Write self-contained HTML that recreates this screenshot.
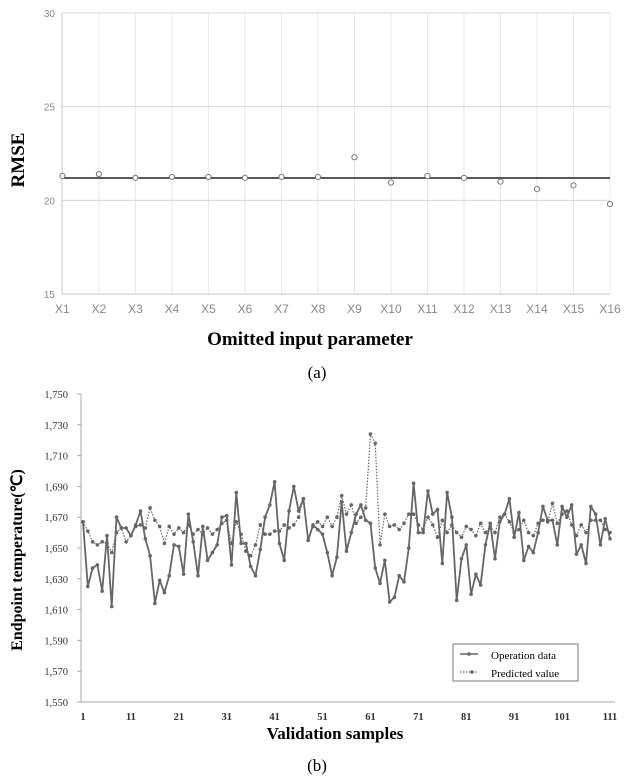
<!DOCTYPE html>
<html><head><meta charset="utf-8"><style>
html,body{margin:0;padding:0;background:#fff;}
svg{display:block;}
</style></head><body>
<svg id="s" width="634" height="783" xmlns="http://www.w3.org/2000/svg" font-family="Liberation Serif, serif">
<g id="top"></g>
<g id="bot"></g>
<text x="310" y="345" font-size="19" font-weight="bold" text-anchor="middle">Omitted input parameter</text>
<text x="317" y="378" font-size="17" text-anchor="middle">(a)</text>
<text transform="translate(24,160) rotate(-90)" font-size="19" font-weight="bold" text-anchor="middle">RMSE</text>
<text x="335" y="739" font-size="17" font-weight="bold" text-anchor="middle">Validation samples</text>
<text x="317" y="771" font-size="17" text-anchor="middle">(b)</text>
<text transform="translate(22,560) rotate(-90)" font-size="16" font-weight="bold" text-anchor="middle">Endpoint temperature(℃)</text>
<rect x="453" y="644" width="125" height="37" fill="#fff" stroke="#777" stroke-width="1"/>
<line x1="460" y1="654" x2="478" y2="654" stroke="#666" stroke-width="1.6"/><circle cx="469" cy="654" r="1.8" fill="#666"/>
<text x="491" y="659" font-size="11">Operation  data</text>
<line x1="460" y1="672" x2="478" y2="672" stroke="#666" stroke-width="1.2" stroke-dasharray="1.5,1.5"/><circle cx="472" cy="672" r="1.8" fill="#666"/>
<text x="491" y="677" font-size="11">Predicted  value</text>
</svg>
<script>
const NS="http://www.w3.org/2000/svg";
function el(p,t,a,txt){const e=document.createElementNS(NS,t);for(const k in a)e.setAttribute(k,a[k]);if(txt!==undefined)e.textContent=txt;p.appendChild(e);return e;}
// top
const T=document.getElementById('top');
const ty=v=>13+(30-v)*(281/15);
const tx=i=>62.4+i*(547.6/15);
for(let i=0;i<16;i++)el(T,'line',{x1:tx(i),y1:13,x2:tx(i),y2:294,stroke:'#e8e8e8','stroke-width':1});
[30,25,20].forEach(v=>el(T,'line',{x1:62,y1:ty(v),x2:610,y2:ty(v),stroke:'#d6d6d6','stroke-width':1}));
el(T,'line',{x1:62,y1:294,x2:610,y2:294,stroke:'#d0d0d0','stroke-width':1.2});
el(T,'line',{x1:62,y1:13,x2:62,y2:294,stroke:'#d0d0d0','stroke-width':1});
[30,25,20,15].forEach(v=>el(T,'text',{x:55,y:ty(v)+4,'font-size':10,fill:'#888','text-anchor':'end','font-family':'Liberation Sans, sans-serif'},v));
el(T,'line',{x1:62,y1:178,x2:610,y2:178,stroke:'#222','stroke-width':1.6});
const rm=[21.3,21.4,21.2,21.25,21.25,21.2,21.25,21.25,22.3,20.95,21.3,21.2,21.0,20.6,20.8,19.8];
rm.forEach((v,i)=>{el(T,'circle',{cx:tx(i),cy:ty(v),r:2.6,fill:'#fff',stroke:'#777','stroke-width':1});
el(T,'text',{x:tx(i),y:313,'font-size':12,fill:'#888','text-anchor':'middle','font-family':'Liberation Sans, sans-serif'},'X'+(i+1));});
// bottom
const B=document.getElementById('bot');
const by=v=>702-(v-1550)*1.54;
const bx=i=>83+(i-1)*(527/110);
el(B,'line',{x1:81,y1:394,x2:81,y2:702,stroke:'#aaa','stroke-width':1});
el(B,'line',{x1:81,y1:702,x2:615,y2:702,stroke:'#aaa','stroke-width':1});
for(let v=1550;v<=1750;v+=20){el(B,'line',{x1:77,y1:by(v),x2:81,y2:by(v),stroke:'#aaa'});
el(B,'text',{x:68,y:by(v)+4,'font-size':10.5,'text-anchor':'end','fill':'#333'},v.toLocaleString('en-US'));}
for(let i=1;i<=111;i+=10)el(B,'text',{x:bx(i),y:720,'font-size':10.5,'font-weight':'bold','text-anchor':'middle','fill':'#333'},i);
const op=[1667,1625,1637,1639,1622,1658,1612,1670,1663,1663,1658,1665,1674,1656,1645,1614,1629,1621,1632,1652,1651,1633,1672,1654,1632,1664,1642,1647,1652,1670,1671,1639,1686,1653,1653,1638,1632,1649,1670,1678,1693,1653,1642,1674,1690,1674,1682,1655,1665,1662,1659,1647,1632,1644,1680,1648,1660,1672,1678,1668,1666,1637,1627,1642,1615,1618,1632,1628,1650,1692,1660,1660,1687,1672,1675,1640,1686,1670,1616,1643,1652,1620,1633,1626,1652,1666,1643,1667,1672,1682,1657,1673,1642,1651,1647,1660,1677,1668,1668,1652,1677,1670,1678,1646,1652,1640,1677,1672,1652,1669,1656];
const pr=[1667,1661,1654,1652,1654,1653,1647,1660,1663,1654,1658,1664,1665,1663,1676,1668,1664,1653,1664,1659,1663,1660,1665,1659,1662,1659,1663,1659,1662,1666,1668,1653,1667,1659,1648,1645,1652,1665,1659,1659,1661,1661,1665,1663,1665,1670,1682,1655,1664,1667,1664,1670,1664,1670,1684,1672,1678,1666,1670,1676,1724,1718,1652,1672,1664,1665,1662,1666,1672,1672,1665,1662,1670,1665,1657,1668,1660,1665,1660,1657,1664,1662,1658,1666,1660,1664,1660,1670,1672,1667,1660,1662,1668,1660,1658,1666,1668,1667,1679,1666,1672,1674,1665,1658,1665,1660,1668,1668,1668,1662,1660];
function series(d,dash,w){const pts=d.map((v,i)=>bx(i+1).toFixed(1)+','+by(v).toFixed(1)).join(' ');
const a={points:pts,fill:'none',stroke:'#666','stroke-width':w,'stroke-linejoin':'round'};if(dash)a['stroke-dasharray']='1.5,1.5';
el(B,'polyline',a);d.forEach((v,i)=>el(B,'circle',{cx:bx(i+1),cy:by(v),r:1.8,fill:'#666'}));}
series(pr,true,1.2);
series(op,false,1.8);
</script>
</body></html>
